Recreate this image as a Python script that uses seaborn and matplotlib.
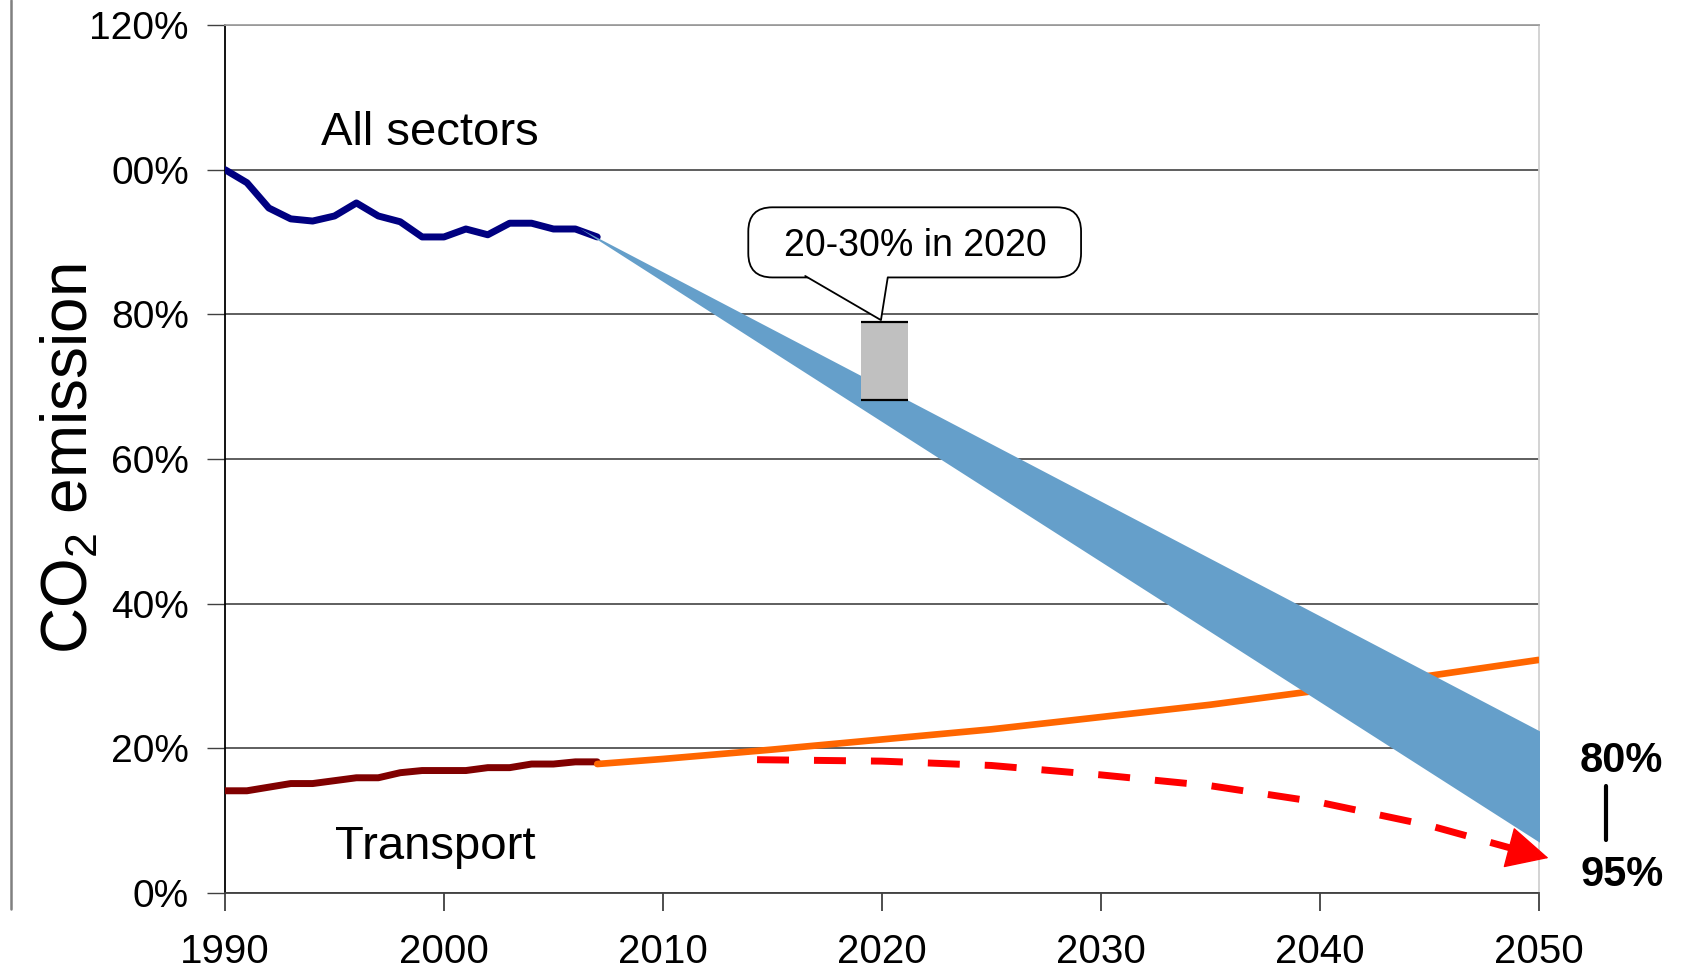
import numpy as np
import pandas as pd
import seaborn as sns
import matplotlib.pyplot as plt
from matplotlib.patches import FancyBboxPatch, Polygon
from matplotlib.lines import Line2D

# historic emissions, % of 1990
hist_years = list(range(1990, 2008))
all_sectors = [100.0, 98.2, 94.7, 93.2, 92.9, 93.6, 95.4, 93.6, 92.8, 90.7,
               90.7, 91.8, 91.0, 92.6, 92.6, 91.8, 91.8, 90.7]
transport = [14.1, 14.1, 14.6, 15.1, 15.1, 15.5, 15.9, 15.9, 16.6, 16.9,
             16.9, 16.9, 17.3, 17.3, 17.8, 17.8, 18.1, 18.1]

# transport projection (business as usual)
proj_years = [2007, 2010, 2015, 2020, 2025, 2030, 2035, 2040, 2045, 2050]
transport_proj = [17.8, 18.5, 19.8, 21.2, 22.6, 24.3, 26.0, 28.0, 30.0, 32.2]

# transport target path (dashed red, ends in arrow)
target_years = [2014.3, 2020, 2025, 2030, 2035, 2040, 2045, 2048.7]
target_vals = [18.4, 18.2, 17.6, 16.3, 14.8, 12.5, 9.3, 6.2]
arrow_tip = (2050.45, 4.8)

# all sectors reduction band: 80% .. 95% in 2050
band_years = [2006.2, 2050.6]
band_upper = [91.9, 21.5]
band_lower = [91.9, 5.9]

# 2020 target box: 20-30% reduction
box_years = [2019.05, 2021.2]
box_range = [68.1, 78.9]

y_ticks = [0, 20, 40, 60, 80, 100, 120]
y_labels = ["0%", "20%", "40%", "60%", "80%", "00%", "120%"]
x_ticks = [1990, 2000, 2010, 2020, 2030, 2040, 2050]

sns.set_style("white")
plt.rcParams["font.family"] = ["Liberation Sans", "DejaVu Sans"]
plt.rcParams["mathtext.fontset"] = "custom"
plt.rcParams["mathtext.rm"] = "Liberation Sans"
for key in ["text.color", "axes.labelcolor", "xtick.color", "ytick.color"]:
    plt.rcParams[key] = "black"

fig = plt.figure(figsize=(16.96, 9.73), dpi=100)
ax = fig.add_axes([0.1327, 0.0825, 0.7745, 0.8917])

hist = pd.DataFrame({"year": hist_years, "all": all_sectors, "transport": transport})
proj = pd.DataFrame({"year": proj_years, "value": transport_proj})
targ = pd.DataFrame({"year": target_years, "value": target_vals})

sns.lineplot(data=hist, x="year", y="all", color="#000080", lw=5, ax=ax, zorder=3)
sns.lineplot(data=hist, x="year", y="transport", color="#800000", lw=5, ax=ax, zorder=3)
sns.lineplot(data=proj, x="year", y="value", color="#FF6600", lw=4.8, ax=ax, zorder=3,
             solid_capstyle="round")

ax.fill_between(band_years, band_lower, band_upper, color="#659FCA", lw=0, zorder=4)

sns.lineplot(data=targ, x="year", y="value", color="#FF0000", lw=5, ax=ax, zorder=5,
             linestyle=(0, (4.6, 3.6)))
ax.annotate("", xy=arrow_tip, xytext=(target_years[-1], target_vals[-1]),
            annotation_clip=False,
            arrowprops=dict(arrowstyle="-|>,head_length=1.0,head_width=0.5",
                            mutation_scale=28, color="#FF0000", lw=1,
                            shrinkA=0, shrinkB=0), zorder=5)

# 2020 target box
ax.fill_between(box_years, box_range[0], box_range[1], color="#C0C0C0", lw=0, zorder=6)
ax.hlines(box_range, box_years[0], box_years[1], color="black", lw=1.6, zorder=7)

# callout
callout = FancyBboxPatch((2013.9, 85.1), 15.2, 9.7,
                         boxstyle="round,pad=0,rounding_size=1.1",
                         mutation_aspect=3.03, facecolor="white",
                         edgecolor="black", lw=1.3, zorder=8, clip_on=False)
ax.add_patch(callout)
ax.add_patch(Polygon([(2016.5, 85.6), (2016.5, 85.3), (2019.96, 79.2),
                      (2020.27, 85.1), (2020.27, 85.6)],
                     facecolor="white", edgecolor="none", zorder=9))
ax.plot([2016.5, 2019.96, 2020.27], [85.3, 79.2, 85.1], color="black", lw=1.3, zorder=9)
ax.text(2021.55, 88.1, "20-30% in 2020", ha="center", va="baseline", fontsize=27, zorder=10)

ax.text(1994.4, 103.4, "All sectors", fontsize=34, va="baseline")
ax.text(1995.0, 4.6, "Transport", fontsize=34, va="baseline")

ax.text(2053.8, 18.2, "80%", fontsize=30, weight="bold", ha="center", va="center", clip_on=False)
ax.text(2053.8, 2.4, "95%", fontsize=30, weight="bold", ha="center", va="center", clip_on=False)
ax.plot([2053.1, 2053.1], [14.7, 7.3], color="black", lw=3, clip_on=False)

ax.set_xlim(1990, 2050)
ax.set_ylim(0, 120)
ax.set_xticks(x_ticks)
ax.set_xticklabels([str(x) for x in x_ticks])
ax.set_yticks(y_ticks)
ax.set_yticklabels(y_labels)
ax.tick_params(axis="x", labelsize=29, length=13, width=1.3, color="#404040",
               pad=16, direction="out", bottom=True)
ax.tick_params(axis="y", labelsize=28, length=13, width=1, color="#404040",
               pad=13, direction="out", left=True)
ax.set_xlabel("")
ax.set_ylabel("CO$_\\mathrm{2}$ emission", fontsize=46)
ax.yaxis.set_label_coords(-0.095, 0.5)

ax.yaxis.grid(True, color="#333333", lw=1.1)
ax.xaxis.grid(False)
ax.set_axisbelow(True)
ax.spines["left"].set_color("black")
ax.spines["left"].set_linewidth(1.3)
ax.spines["bottom"].set_color("#404040")
ax.spines["bottom"].set_linewidth(1.3)
ax.spines["top"].set_color("#A0A0A0")
ax.spines["top"].set_linewidth(1.3)
ax.spines["right"].set_color("#D0D0D0")
ax.spines["right"].set_linewidth(1.3)
for s in ax.spines.values():
    s.set_visible(True)

# stray frame line at the left edge of the slide
fig.add_artist(Line2D([0.0065, 0.0065], [1.0, 0.066], color="#808080", lw=1.8))

fig.savefig("out.png", dpi=100)
